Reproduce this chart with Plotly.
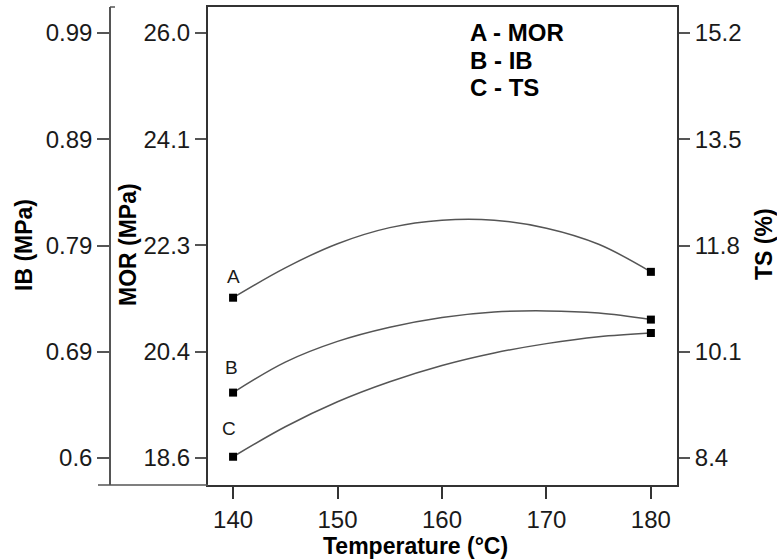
import plotly.graph_objects as go

# ---- data ----
temperature = [140, 145, 150, 155, 160, 165, 170, 175, 180]
mor = [21.39, 21.91, 22.33, 22.61, 22.74, 22.74, 22.60, 22.32, 21.84]      # A - MOR (MPa)
ib = [0.660, 0.688, 0.707, 0.720, 0.729, 0.734, 0.735, 0.733, 0.727]       # B - IB (MPa)
ts = [8.42, 8.90, 9.30, 9.62, 9.88, 10.08, 10.23, 10.34, 10.40]            # C - TS (%)

x_ticks = [140, 150, 160, 170, 180]
mor_tickvals = [18.6, 20.45, 22.3, 24.15, 26.0]
mor_ticktext = ["18.6", "20.4", "22.3", "24.1", "26.0"]
ib_tickvals = [0.6, 0.6975, 0.795, 0.8925, 0.99]
ib_ticktext = ["0.6", "0.69", "0.79", "0.89", "0.99"]
ts_tickvals = [8.4, 10.1, 11.8, 13.5, 15.2]
ts_ticktext = ["8.4", "10.1", "11.8", "13.5", "15.2"]

W, H = 777, 560
L, R, T, B = 0, 0, 7, 75
PX0, PX1 = 208, 677
FONT = "Arial, Liberation Sans, sans-serif"
LINE = "#555555"
FRAME = "#333333"
TXT = "#1a1a1a"

def px(x):
    return x / W

def py(y):
    return (H - B - y) / (H - T - B)

fig = go.Figure()

series = [(mor, "y", "A"), (ib, "y2", "B"), (ts, "y3", "C")]
for vals, ax, name in series:
    fig.add_trace(go.Scatter(x=temperature, y=vals, yaxis=ax, mode="lines",
                             line=dict(color=LINE, width=1.5, shape="spline"),
                             showlegend=False, hoverinfo="skip"))
    fig.add_trace(go.Scatter(x=[temperature[0], temperature[-1]], y=[vals[0], vals[-1]],
                             yaxis=ax, mode="markers",
                             marker=dict(symbol="square", size=8, color="black"),
                             showlegend=False))

tickfont = dict(family=FONT, size=24, color=TXT)
fig.update_layout(
    width=W, height=H,
    margin=dict(l=L, r=R, t=T, b=B, autoexpand=False),
    paper_bgcolor="white", plot_bgcolor="white",
    xaxis=dict(domain=[px(PX0), px(PX1)], range=[137.6, 182.5],
               tickvals=x_ticks, ticks="outside", ticklen=12, tickwidth=1.5,
               tickcolor=FRAME, showline=True, linecolor=FRAME, linewidth=2,
               mirror=True, showgrid=False, zeroline=False, tickfont=tickfont,
               automargin=False),
    yaxis=dict(range=[18.13, 26.45], tickvals=mor_tickvals, ticktext=mor_ticktext,
               ticks="outside", ticklen=11, tickwidth=1.5, tickcolor=LINE,
               showline=True, linecolor=FRAME, linewidth=2, mirror=True,
               showgrid=False, zeroline=False, tickfont=tickfont, automargin=False),
    yaxis2=dict(range=[0.5752, 1.0139], tickvals=ib_tickvals, ticktext=ib_ticktext,
                overlaying="y", anchor="free", position=px(110), side="left",
                ticks="outside", ticklen=12, tickwidth=1.5, tickcolor=LINE,
                showline=True, linecolor=LINE, linewidth=1.5,
                showgrid=False, zeroline=False, tickfont=tickfont, automargin=False),
    yaxis3=dict(range=[7.968, 15.616], tickvals=ts_tickvals, ticktext=ts_ticktext,
                overlaying="y", anchor="x", side="right",
                ticks="outside", ticklen=11, tickwidth=1.5, tickcolor=LINE,
                showline=True, linecolor=FRAME, linewidth=2,
                showgrid=False, zeroline=False, tickfont=tickfont, automargin=False),
)

titlefont = dict(family=FONT, size=23, color="black")
ann = [
    dict(text="<b>Temperature (°C)</b>", x=px(415), y=py(546), textangle=0),
    dict(text="<b>IB (MPa)</b>", x=px(24), y=py(245), textangle=-90),
    dict(text="<b>MOR (MPa)</b>", x=px(128), y=py(245), textangle=-90),
    dict(text="<b>TS (%)</b>", x=px(764), y=py(244), textangle=-90),
]
for a in ann:
    fig.add_annotation(xref="paper", yref="paper", showarrow=False,
                       xanchor="center", yanchor="middle", font=titlefont, **a)

legend_lines = ["A - MOR", "B - IB", "C - TS"]
for i, t in enumerate(legend_lines):
    fig.add_annotation(xref="paper", yref="paper", x=px(468), y=py(32 + 28 * i),
                       text=f"<b>{t}</b>", showarrow=False, xanchor="left",
                       yanchor="middle", font=dict(family=FONT, size=24, color="black"))

# curve letters above the 140 °C end markers
letter_shift = [21, 25, 28]
letter_dx = [0, -2, -4]
for (vals, ax, name), dy, dx in zip(series, letter_shift, letter_dx):
    fig.add_annotation(xref="x", yref=ax, x=temperature[0], y=vals[0], text=name,
                       showarrow=False, yshift=dy, xshift=dx,
                       font=dict(family=FONT, size=19, color=TXT))

# axis decorations (bottom baseline extension and top stub of the IB axis)
fig.add_shape(type="line", xref="paper", yref="paper", x0=px(98), x1=px(PX0),
              y0=py(485), y1=py(485), line=dict(color=LINE, width=1.5))
fig.add_shape(type="line", xref="paper", yref="paper", x0=px(110), x1=px(115),
              y0=py(7), y1=py(7), line=dict(color=LINE, width=1.5))

fig.write_html("out.html", config={"displayModeBar": False},
               post_script="document.body.style.margin='0';document.body.style.padding='0';")
